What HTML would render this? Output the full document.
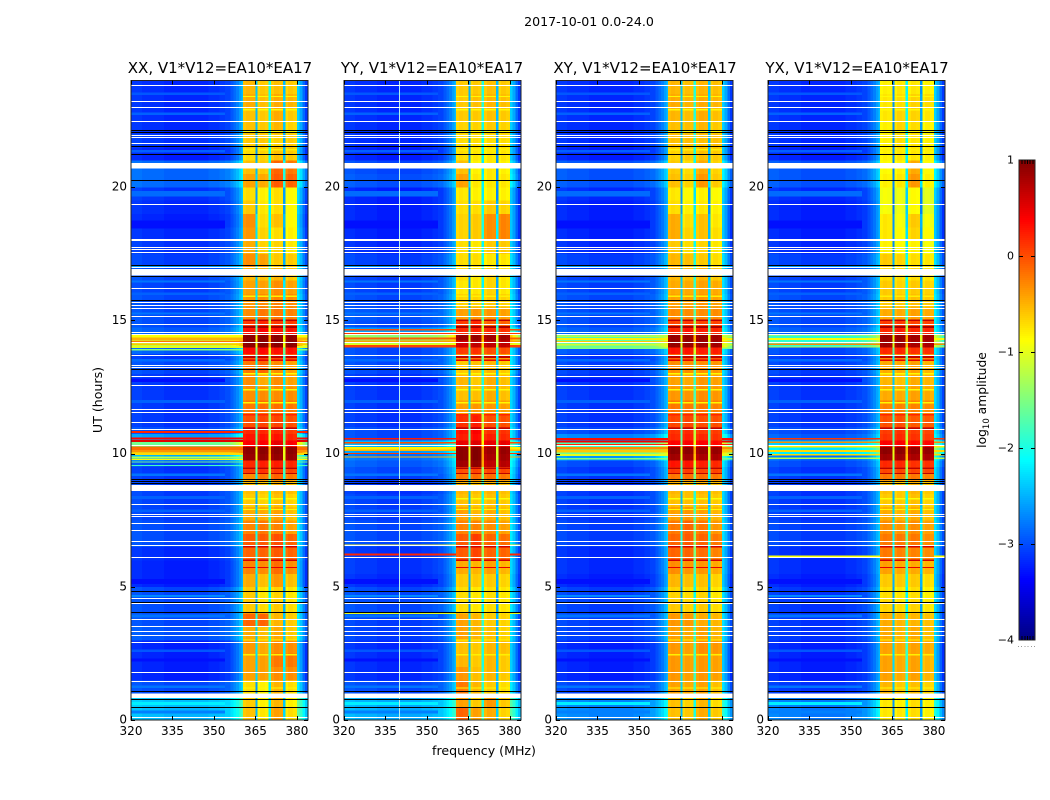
<!DOCTYPE html>
<html>
<head>
<meta charset="utf-8">
<title>2017-10-01 0.0-24.0</title>
<style>
html,body{margin:0;padding:0;background:#fff;}
svg{display:block;}
text{font-family:"DejaVu Sans","Liberation Sans",sans-serif;fill:#000;}
</style>
</head>
<body>
<svg id="figure" xmlns="http://www.w3.org/2000/svg" width="1050" height="800" viewBox="0 0 1050 800">
<rect x="0" y="0" width="1050" height="800" fill="#fff"/>
<text x="589" y="26" font-size="12.6" text-anchor="middle">2017-10-01 0.0-24.0</text>
<text x="220" y="73" font-size="15" text-anchor="middle">XX, V1*V12=EA10*EA17</text>
<text x="432" y="73" font-size="15" text-anchor="middle">YY, V1*V12=EA10*EA17</text>
<text x="645" y="73" font-size="15" text-anchor="middle">XY, V1*V12=EA10*EA17</text>
<text x="857" y="73" font-size="15" text-anchor="middle">YX, V1*V12=EA10*EA17</text>
<text transform="translate(102,400) rotate(-90)" font-size="12.6" text-anchor="middle">UT (hours)</text>
<text x="484" y="755" font-size="12.6" text-anchor="middle">frequency (MHz)</text>
<text transform="translate(986,400) rotate(-90)" font-size="12.3" text-anchor="middle">log<tspan font-size="8.5" dy="3">10</tspan><tspan dy="-3"> amplitude</tspan></text>
<g id="panels"></g>
<g id="colorbar"></g>
</svg>
<script>
// Frequency column edges (MHz), and per-column band membership / level offset
const freqEdges=[320,324,328,332,336,340,344,348,352,354,356,357,358,359,360,360.5,361.5,363,365,365.7,366.7,368.5,369.8,370.7,371.7,373.5,375,375.8,376.8,378.5,380,381,382,383,384];
const columnBand=[0,0,0,0,0,0,0,0,0,0,0,0,0,0,0,1,1,1,1,2,2,2,2,3,3,3,3,4,4,4,0,0,0,0];
const columnOffset=[0.05,0,0,-0.05,-0.05,-0.05,-0.05,0,0.05,0.1,0.2,0.3,0.4,0.55,0.7,-0.05,0,-0.03,-1.9,-0.08,0,-0.04,-1.4,-0.08,0,-0.03,-1.9,-0.08,0,-0.05,0.8,0.6,0.3,0.05];
// Time row edges (hours)
const timeEdges=[0,0.5,1,1.5,2,2.5,3,3.5,4,4.5,5,5.5,6,6.5,7,7.5,8,8.5,9,9.25,9.5,9.75,10,10.25,10.5,10.75,11,11.5,12,12.5,13,13.5,13.75,14,14.25,14.5,14.75,15,15.5,16,16.5,17,17.5,18,18.5,19,19.5,20,20.5,21,21.5,22,22.5,23,23.5,24];
// log10 amplitude per time row: [background, band1, band2, band3, band4]
const xxLevels=[
[-2.45,-.55,-.75,-.4,-.7],[-2.4,-.6,-.8,-.5,-.8],[-3,-.7,-.8,-.5,-.7],[-3.2,-.4,-.4,-.3,-.3],[-3.2,-.4,-.4,-.2,-.2],[-3.2,-.35,-.45,-.3,-.3],[-2.95,-.45,-.55,-.45,-.6],[-3,-.1,-.1,-.5,-.6],[-3,-.6,-.7,-.6,-.7],[-3,-.6,-.75,-.65,-.75],
[-3.2,-.45,-.55,-.35,-.55],[-3.2,-.25,-.3,-.15,-.3],[-3.15,-.1,-.1,-.05,-.1],[-3,-.05,-.05,0,-.1],[-3,-.25,-.2,-.25,-.4],[-3.05,-.45,-.45,-.4,-.55],[-3.05,-.6,-.65,-.55,-.65],[-3.05,-.55,-.6,-.5,-.55],
[-3.1,-.3,-.2,-.1,-.2],[-3.1,.1,.15,.1,.05],[-3,.2,.25,.25,.2],[-2.5,.9,.9,.9,.9],[-1,.95,.95,.95,.95],[-1.6,.4,.4,.5,.4],[-2.6,.3,.3,.3,.2],[-3,.2,.2,.2,.1],
[-3.1,0,.05,.05,0],[-3.1,-.2,-.15,-.15,-.2],[-3.1,-.3,-.3,-.3,-.3],[-3.1,-.3,-.45,-.3,-.4],[-3,-.2,-.1,-.3,-.4],
[-3.1,0,.1,0,0],[-2.9,.35,.35,.3,.3],[-1.2,.95,.95,.95,.95],[-1.3,.95,.95,.95,.95],[-2.9,.3,.4,.3,.3],[-3,.1,.2,.1,.1],
[-3,-.3,-.2,-.2,-.25],[-3,-.35,-.3,-.25,-.3],[-3.05,-.4,-.4,-.3,-.4],[-3,-.5,-.55,-.5,-.6],[-3.05,-.3,-.4,-.6,-.6],[-3.1,-.45,-.65,-.65,-.75],[-3.15,-.35,-.65,-.7,-.8],[-3.2,-.3,-.7,-.55,-.85],[-3.15,-.6,-.75,-.7,-.85],[-3.1,-.7,-.8,-.7,-.85],
[-2.85,-.4,-.45,-.05,-.1],[-2.85,-.55,-.6,-.1,-.2],[-3.2,-.7,-.65,-.55,-.6],[-3.1,-.6,-.6,-.65,-.6],[-3.15,-.55,-.6,-.5,-.65],[-3.15,-.55,-.6,-.45,-.6],[-3.15,-.45,-.55,-.45,-.5],[-3.15,-.5,-.6,-.55,-.6]];
const yyLevels=[
[-2.5,-.1,-.4,-.45,-.65],[-2.5,-.4,-.6,-.35,-.6],[-3,-.2,-.5,-.6,-.7],[-3.15,-.35,-.55,-.5,-.6],[-3.15,-.5,-.6,-.5,-.6],[-3.15,-.55,-.6,-.5,-.55],[-3.05,-.4,-.5,-.55,-.65],[-3.05,-.4,-.5,-.6,-.65],[-3,-.7,-.75,-.7,-.75],[-3,-.7,-.75,-.7,-.75],
[-3.15,-.6,-.6,-.6,-.65],[-3.1,-.45,-.5,-.4,-.5],[-3.1,-.05,.05,-.1,-.1],[-3,-.05,.1,-.1,-.15],[-3,-.25,-.25,-.3,-.4],[-3.05,-.4,-.5,-.45,-.55],[-3.05,-.55,-.6,-.55,-.6],[-3.1,-.5,-.55,-.5,-.55],
[-3.05,-.2,-.15,-.15,-.2],[-3,0,.05,.05,.05],[-2.9,.85,.95,.7,.75],[-2.8,.95,1,.8,.85],[-2.6,.95,1,.85,.9],[-2.5,.5,.55,.5,.5],[-3,.25,.35,.25,.2],[-3,.3,.4,.15,.15],
[-3.1,.15,.25,0,0],[-3.1,-.4,-.35,-.35,-.4],[-3.1,-.55,-.55,-.45,-.55],[-3.1,-.5,-.6,-.45,-.55],[-3,-.6,-.55,-.5,-.6],
[-3,-.3,-.2,-.35,-.4],[-3,.1,.15,0,0],[-1.4,.6,.7,.7,.7],[-1.4,.9,.9,.85,.85],[-2.6,.2,.25,.2,.15],[-3,.1,.2,-.1,-.1],
[-2.95,-.4,-.35,-.35,-.4],[-3,-.65,-.65,-.6,-.65],[-3.05,-.75,-.75,-.65,-.75],[-3.05,-.7,-.75,-.65,-.75],[-3.05,-.7,-.7,-.75,-.75],[-3.15,-.7,-.75,-.6,-.6],[-3.2,-.65,-.6,-.3,-.25],[-3.2,-.65,-.6,-.3,-.25],[-3.2,-.7,-.7,-.6,-.65],[-3.2,-.75,-.8,-.8,-.8],
[-2.95,-.4,-.75,-.75,-.75],[-3,-.55,-.8,-.75,-.8],[-3.2,-.7,-.75,-.75,-.75],[-3.15,-.7,-.7,-.7,-.7],[-3.15,-.65,-.65,-.6,-.65],[-3.15,-.6,-.6,-.55,-.6],[-3.15,-.6,-.55,-.5,-.55],[-3.15,-.6,-.6,-.55,-.6]];
const xyLevels=[
[-2.7,-.55,-.6,-.45,-.6],[-2.7,-.55,-.65,-.5,-.7],[-3.05,-.4,-.45,-.4,-.55],[-3.2,-.35,-.4,-.35,-.4],[-3.2,-.35,-.4,-.35,-.4],[-3.2,-.35,-.4,-.3,-.35],[-3.05,-.4,-.45,-.4,-.5],[-3.05,-.35,-.35,-.45,-.5],[-3.05,-.6,-.65,-.6,-.7],[-3.05,-.65,-.7,-.65,-.75],
[-3.2,-.5,-.55,-.55,-.65],[-3.15,-.3,-.35,-.35,-.45],[-3.15,-.1,-.1,-.15,-.25],[-3.05,-.1,-.05,-.1,-.2],[-3.05,-.2,-.1,-.2,-.35],[-3.1,-.4,-.35,-.4,-.5],[-3.1,-.55,-.55,-.55,-.6],[-3.1,-.5,-.55,-.5,-.55],
[-3.1,-.2,-.15,-.15,-.2],[-3.1,.1,.1,.05,.05],[-3,.3,.3,.25,.2],[-2.6,.85,.85,.8,.8],[-1.6,.95,.95,.9,.9],[-1.8,.4,.4,.4,.35],[-2.7,.2,.25,.2,.15],[-3,.15,.2,.1,.1],
[-3.1,.05,.05,0,0],[-3.1,-.2,-.2,-.2,-.25],[-3.1,-.35,-.35,-.3,-.35],[-3.1,-.4,-.45,-.35,-.4],[-3.05,-.3,-.3,-.3,-.35],
[-3.1,-.1,0,-.05,-.05],[-2.95,.3,.3,.25,.25],[-1.6,.9,.9,.85,.85],[-1.7,.9,.9,.9,.85],[-2.9,.2,.3,.25,.2],[-3,.05,.1,.05,.05],
[-3,-.3,-.3,-.3,-.3],[-3,-.4,-.4,-.35,-.4],[-3.05,-.45,-.45,-.4,-.45],[-3.05,-.5,-.55,-.5,-.6],[-3.05,-.5,-.55,-.6,-.7],[-3.15,-.6,-.7,-.65,-.75],[-3.2,-.45,-.65,-.55,-.7],[-3.2,-.45,-.7,-.55,-.75],[-3.2,-.7,-.8,-.75,-.8],[-3.15,-.75,-.85,-.8,-.85],
[-2.95,-.55,-.65,-.35,-.6],[-2.95,-.6,-.7,-.45,-.65],[-3.2,-.65,-.6,-.55,-.6],[-3.15,-.55,-.55,-.55,-.55],[-3.15,-.55,-.55,-.5,-.6],[-3.15,-.5,-.55,-.45,-.55],[-3.15,-.45,-.5,-.45,-.5],[-3.15,-.5,-.55,-.5,-.55]];
const yxLevels=[
[-2.75,-.75,-.75,-.7,-.8],[-2.75,-.75,-.8,-.7,-.8],[-3.1,-.5,-.6,-.55,-.65],[-3.2,-.4,-.45,-.4,-.5],[-3.2,-.4,-.45,-.4,-.5],[-3.2,-.4,-.45,-.4,-.45],[-3.1,-.45,-.5,-.45,-.55],[-3.1,-.45,-.5,-.5,-.55],[-3.1,-.65,-.7,-.65,-.75],[-3.1,-.7,-.75,-.7,-.8],
[-3.2,-.6,-.6,-.6,-.7],[-3.15,-.4,-.45,-.45,-.5],[-3.15,-.2,-.25,-.25,-.3],[-3.05,-.2,-.2,-.2,-.3],[-3.05,-.3,-.35,-.3,-.4],[-3.1,-.45,-.5,-.45,-.55],[-3.1,-.6,-.6,-.55,-.65],[-3.1,-.55,-.6,-.5,-.6],
[-3.1,-.2,-.2,-.2,-.25],[-3.1,.05,.05,.05,.05],[-3,.2,.2,.15,.15],[-2.8,.85,.85,.8,.8],[-2.2,.95,.95,.9,.9],[-2.4,.4,.4,.35,.35],[-2.9,.15,.2,.15,.1],[-3,.1,.15,.1,.05],
[-3.1,0,0,-.05,-.05],[-3.1,-.25,-.25,-.25,-.3],[-3.1,-.45,-.45,-.4,-.45],[-3.1,-.5,-.55,-.45,-.5],[-3.05,-.45,-.45,-.4,-.5],
[-3.1,-.3,-.3,-.3,-.3],[-3,.2,.2,.15,.15],[-1.9,.85,.85,.8,.8],[-1.9,.9,.9,.85,.85],[-2.9,.2,.25,.2,.2],[-3,.1,.1,.05,.05],
[-3,-.45,-.45,-.4,-.45],[-3,-.6,-.6,-.55,-.6],[-3.05,-.6,-.65,-.6,-.65],[-3.05,-.7,-.7,-.7,-.75],[-3.05,-.6,-.65,-.7,-.75],[-3.15,-.8,-.85,-.8,-.9],[-3.2,-.75,-.85,-.65,-.85],[-3.2,-.75,-.9,-.6,-.9],[-3.2,-.9,-.95,-.85,-1],[-3.15,-.9,-.95,-.85,-1],
[-2.95,-.8,-.75,-.35,-.8],[-2.95,-.85,-.8,-.45,-.85],[-3.2,-.8,-.75,-.75,-.8],[-3.15,-.8,-.7,-.75,-.8],[-3.15,-.8,-.65,-.7,-.8],[-3.15,-.75,-.65,-.65,-.75],[-3.15,-.75,-.7,-.65,-.7],[-3.15,-.8,-.75,-.75,-.8]];
// Narrow hot rows that brighten the off-band channels: [hour, duration, log10 amplitude]
const xxHotRows=[[17.05,.07,-2.2],[10.81,.07,.2],[10.56,.08,.35],[10.47,.07,.5],[10.2,.12,-.15],[10.08,.1,-.35],[9.98,.08,-.7],[9.86,.06,-1.3],[9.78,.05,-.9],[9.68,.05,-1.6],[9.55,.05,-1.8],[14.4,.08,-.9],[14.3,.1,-.5],[14.2,.06,-.2],[14.1,.05,-.6],[14,.07,-1],[13.9,.05,-1.5]];
const yyHotRows=[[17.05,.07,-2.2],[14.65,.05,0],[14.5,.06,.1],[14.32,.07,-.1],[14.19,.09,-.4],[14.1,.05,-1],[14.02,.09,.05],[10.55,.06,.25],[10.4,.05,0],[10.2,.08,-.8],[10.12,.05,-.5],[10,.05,.1],[9.87,.05,-.5],[6.21,.07,.2],[6.56,.05,-.8],[4,.04,-1]];
const xyHotRows=[[17.05,.07,-2.2],[10.55,.08,.3],[10.45,.08,.45],[10.33,.06,.2],[10.2,.1,-.3],[10.08,.1,-.6],[9.95,.08,-1],[9.8,.05,-1.5],[14.4,.07,-1.2],[14.3,.09,-.8],[14.2,.06,-.6],[14.08,.05,-1.1],[13.95,.05,-1.5]];
const yxHotRows=[[17.05,.07,-2.2],[10.55,.06,.1],[10.42,.05,-.3],[10.25,.06,-.8],[10.1,.07,-.7],[9.95,.06,-.7],[9.82,.05,-1.2],[14.45,.05,-1.2],[14.3,.07,-.9],[14.1,.06,-.3],[14,.05,-1.2],[6.15,.05,-.9]];
// Bright / dim background streaks, shared by all panels: [hour, duration, log10 amplitude]
const backgroundStreaks=[[0.3,.1,-2.75],[0.62,.1,-2.2],[1.25,.08,-2.8],[2.25,.12,-3.3],[2.6,.1,-2.95],[3.9,.1,-2.8],[4.66,.08,-2.7],[5.2,.2,-3.3],[7.85,.1,-2.9],[8.35,.1,-2.9],[9.2,.1,-2.8],[11.95,.12,-2.9],[12.75,.12,-3.3],[13.5,.1,-2.85],[15.25,.08,-2.8],[16,.1,-2.9],[16.45,.08,-2.8],[18.6,.3,-3.3],[19.75,.2,-2.85],[21.35,.1,-2.9],[22.75,.1,-2.9],[23.5,.1,-2.95]];
// Fine horizontal stripes across the four sub-bands: [hour, duration, log10 amplitude]
const bandStripes=[[15,.05,.7],[14.75,.06,.8],[13.62,.08,.7],[13.5,.05,.5],[11.45,.05,.2],[10.95,.05,.7],[9.45,.06,.7],[9.25,.05,.7],[6.5,.06,.6],[6,.05,.6],[5.72,.05,.5],[11.9,.05,-.85],[12.4,.05,-.9],[7.9,.05,-.85],[8.3,.05,-.9],[13,.06,-.85],[15.9,.05,-.8],[2.45,.05,-.8],[1.2,.05,-.85],[3,.05,-.85],[22.9,.05,-.85],[23.4,.05,-.85],[22.1,.05,-.85],[21.4,.05,-.8]];
// Sub-band spans (MHz)
const bandSpans=[[360.5,365],[365.7,369.8],[370.7,375],[375.8,380]];
// Flagged (blank) integrations: hour of each thin white line
const flaggedHours=[23.84,23.24,23.01,22.47,21.97,21.87,21.66,20.92,19.36,18.06,18,17.75,17.67,17.55,17,16.22,15.68,15.59,15.47,15.15,14.87,14.56,14.48,14.18,13.71,13.31,13.24,12.92,12.59,11.69,11.55,11.2,10.91,10.31,8.1,7.72,7.65,7.41,7.12,6.72,6.56,6.1,4.56,4.38,3.78,3.54,3.34,3.19,2.91,1.79,1.46,0.11];
// Flagged gaps: [start hour, end hour]
const flaggedGaps=[[20.7,20.86],[16.69,16.92],[8.59,8.82],[0.82,1]];
// Zero-amplitude integrations: hour of each black line
const zeroHours=[22.15,22.08,21.55,21.23,20.27,17.07,16.67,15.78,13.19,9.05,8.96,8.89,4.86,4.41,4.06,1.08,0.8,0.5];
// Flagged channel visible in the YY panel (MHz)
const yyChannelFlags=[339.9];
// Tick values
const freqTicks=[320,335,350,365,380];
const hourTicks=[0,5,10,15,20];
const colorbarTicks=[1,0,-1,-2,-3,-4];

const panels=[
  {name:'xx',levels:xxLevels,hot:xxHotRows,channels:[]},
  {name:'yy',levels:yyLevels,hot:yyHotRows,channels:yyChannelFlags},
  {name:'xy',levels:xyLevels,hot:xyHotRows,channels:[]},
  {name:'yx',levels:yxLevels,hot:yxHotRows,channels:[]}
];
const NS='http://www.w3.org/2000/svg';
const PANEL_W=177, PANEL_TOP=80.5, PANEL_BOTTOM=720;
function jet(t){
  t=Math.max(0,Math.min(1,t));
  function c(x){return Math.round(255*Math.max(0,Math.min(1,x)));}
  const r=c(1.5-Math.abs(4*t-3)), g=c(1.5-Math.abs(4*t-2)), b=c(1.5-Math.abs(4*t-1));
  return 'rgb('+r+','+g+','+b+')';
}
function levelColor(v){return jet((v+4)/5);}
function yScale(h){return PANEL_BOTTOM-(PANEL_BOTTOM-PANEL_TOP)*h/24;}
function make(tag,parent){const el=document.createElementNS(NS,tag);parent.appendChild(el);return el;}
function rect(parent,x,y,w,h,fill){
  const el=make('rect',parent);
  el.setAttribute('x',x);el.setAttribute('y',y);el.setAttribute('width',w);el.setAttribute('height',h);
  el.setAttribute('fill',fill);
  el.setAttribute('shape-rendering','crispEdges');
  return el;
}
const root=document.getElementById('panels');
panels.forEach(function(p,i){
  const left=Math.ceil(131+i*212.33);
  const xScale=function(f){return left+(f-320)/64*PANEL_W;};
  const g=make('g',root);
  
  
  // heatmap cells
  for(let r=0;r<timeEdges.length-1;r++){
    for(let c=0;c<freqEdges.length-1;c++){
      const v=p.levels[r][columnBand[c]]+columnOffset[c];
      const x0=xScale(freqEdges[c]),x1=xScale(freqEdges[c+1]);
      const y1=yScale(timeEdges[r]),y0=yScale(timeEdges[r+1]);
      const cell=rect(g,x0.toFixed(2),y0.toFixed(2),(x1-x0+0.3).toFixed(2),(y1-y0+0.3).toFixed(2),levelColor(v));
      
      
    }
  }
  // background streaks (off-band channels below the roll-off)
  backgroundStreaks.forEach(function(s){
    const st=rect(g,xScale(320),yScale(s[0]+s[1]/2),xScale(354)-xScale(320),Math.max(1,s[1]*26.6),levelColor(s[2]));
    
    
  });
  // band stripes
  bandStripes.forEach(function(s){
    bandSpans.forEach(function(span){
      const st=rect(g,xScale(span[0]),yScale(s[0]+s[1]/2),xScale(span[1])-xScale(span[0]),Math.max(1,s[1]*26.6),levelColor(s[2]));
      
      
    });
  });
  // hot rows, off-band channels only
  p.hot.forEach(function(h){
    const y=yScale(h[0]+h[1]/2), ht=Math.max(1,h[1]*26.6);
    const a=rect(g,xScale(320),y,xScale(360.5)-xScale(320),ht,levelColor(h[2]));
    
    
    const b=rect(g,xScale(380),y,xScale(384)-xScale(380),ht,levelColor(h[2]));
    
    
  });
  // flagged channel
  p.channels.forEach(function(f){
    const ch=rect(g,xScale(f),PANEL_TOP,1,PANEL_BOTTOM-PANEL_TOP,'#b4ecec');
    
    
  });
  // flags
  flaggedHours.forEach(function(h){
    const l=rect(g,left,Math.round(yScale(h)),PANEL_W,1.2,'#fff');
    
    
  });
  flaggedGaps.forEach(function(s){
    const l=rect(g,left,yScale(s[1]),PANEL_W,yScale(s[0])-yScale(s[1]),'#fff');
    
    
  });
  zeroHours.forEach(function(h){
    const l=rect(g,left,Math.round(yScale(h)),PANEL_W,1.2,'#000');
    
    
  });
  // frame
  const frame=make('rect',g);
  frame.setAttribute('x',left);frame.setAttribute('y',PANEL_TOP);
  frame.setAttribute('width',PANEL_W);frame.setAttribute('height',PANEL_BOTTOM-PANEL_TOP);
  frame.setAttribute('fill','none');frame.setAttribute('stroke','#222');frame.setAttribute('stroke-width','1');
  
  
  // x ticks
  freqTicks.forEach(function(f){
    const x=Math.round(xScale(f));
    const t1=rect(g,x,PANEL_BOTTOM-4,1,4,'#000');
    
    
    const t2=rect(g,x,PANEL_TOP,1,4,'#000');
    
    
    const lab=make('text',g);
    lab.setAttribute('x',xScale(f));lab.setAttribute('y',735);
    lab.setAttribute('font-size','12');lab.setAttribute('text-anchor','middle');
    
    
    lab.textContent=String(f);
  });
  // y ticks
  hourTicks.forEach(function(h){
    const y=Math.round(yScale(h));
    const t1=rect(g,left,y,4,1,'#000');
    
    
    const t2=rect(g,left+PANEL_W-4,y,4,1,'#000');
    
    
    const lab=make('text',g);
    lab.setAttribute('x',left-4);lab.setAttribute('y',yScale(h)+3.5);
    lab.setAttribute('font-size','12');lab.setAttribute('text-anchor','end');
    
    
    lab.textContent=String(h);
  });
});
// colorbar
(function(){
  const cb=document.getElementById('colorbar');
  const L=1019,W=16,T=160,B=640;
  const yc=function(v){return B-(v+4)/5*(B-T);};
  for(let i=0;i<240;i++){
    const s=rect(cb,L,(T+i*2),W,2.2,jet(1-(i+0.5)/240));
    
    
  }
  const fr=make('rect',cb);
  fr.setAttribute('x',L);fr.setAttribute('y',T);fr.setAttribute('width',W);fr.setAttribute('height',B-T);
  fr.setAttribute('fill','none');fr.setAttribute('stroke','#222');fr.setAttribute('stroke-width','1');
  
  
  colorbarTicks.forEach(function(v){
    const y=Math.round(yc(v));
    if(v<1&&v>-4){
      const a=rect(cb,L,y,4,1,'#000');
      
      
      const b=rect(cb,L+W-4,y,4,1,'#000');
      
      
    }
    const lab=make('text',cb);
    lab.setAttribute('x',L-5);lab.setAttribute('y',yc(v)+3.5);
    lab.setAttribute('font-size','11');lab.setAttribute('text-anchor','end');
    
    
    lab.textContent=String(v).replace('-','\u2212');
  });
  for(let k=1;k<6;k++){
    const a=rect(cb,L+k*W/6,T,1,4,'#000');
    
    
    const b=rect(cb,L+k*W/6,B-4,1,4,'#000');
    
    
  }
  for(let k=0;k<6;k++){
    const d=rect(cb,1018+k*3.2,646,1,1,'#999');
    
    
  }
})();
</script>
</body>
</html>
